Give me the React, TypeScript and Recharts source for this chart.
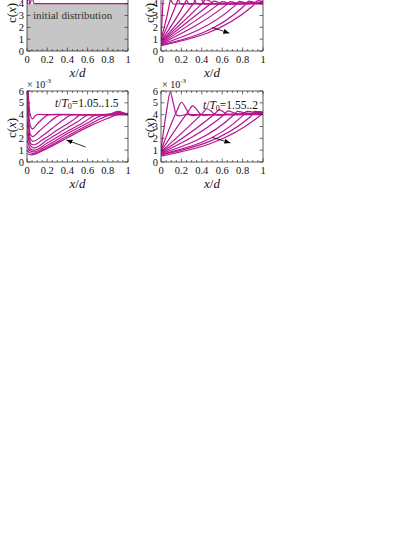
import React from 'react';
import { ComposedChart, Line, Area, XAxis, YAxis } from 'recharts';

const SERIF = '"Liberation Serif", "Times New Roman", serif';
const MAGENTA = '#b5148f';
const AXIS = '#333333';

// axis ticks
const X_TICKS = [0, 0.05, 0.1, 0.15, 0.2, 0.25, 0.3, 0.35, 0.4, 0.45, 0.5, 0.55, 0.6, 0.65, 0.7, 0.75, 0.8, 0.85, 0.9, 0.95, 1];
const X_LABELS = [0, 0.2, 0.4, 0.6, 0.8, 1];
const Y_TICKS = [0, 1, 2, 3, 4, 5, 6];

type Pt = [number, number];

// panel 1: initial distribution
const initialFill: Pt[] = [[0, 4], [1, 4]];
const initialCurves: Pt[][] = [
  [[0, 4.0], [0.015, 4.5], [0.03, 4.0], [0.05, 4.5], [0.07, 4.0], [1, 4.0]],
];

// panel 2: early times (front moving right)
const earlyCurves: Pt[][] = [
  [[0, 1.0], [0.02, 4.2], [0.05, 7.0], [0.09, 4.5], [0.13, 3.95], [0.19, 4.0], [1, 4.0]],
  [[0, 0.95], [0.09, 4.3], [0.12, 5.9], [0.16, 4.6], [0.2, 3.96], [0.26, 4.0], [1, 4.0]],
  [[0, 0.9], [0.16, 4.2], [0.2, 5.2], [0.24, 4.5], [0.28, 3.96], [0.34, 4.0], [1, 4.0]],
  [[0, 0.85], [0.24, 4.15], [0.28, 4.85], [0.32, 4.4], [0.36, 3.97], [0.42, 4.0], [1, 4.02]],
  [[0, 0.8], [0.32, 4.05], [0.36, 4.55], [0.4, 4.3], [0.44, 3.98], [0.5, 4.0], [1, 4.03]],
  [[0, 0.75], [0.4, 4.0], [0.44, 4.35], [0.48, 4.2], [0.52, 3.98], [0.58, 4.0], [1, 4.05]],
  [[0, 0.7], [0.48, 3.95], [0.52, 4.22], [0.56, 4.12], [0.6, 3.98], [0.66, 4.0], [1, 4.08]],
  [[0, 0.65], [0.56, 3.92], [0.6, 4.18], [0.64, 4.1], [0.68, 3.99], [1, 4.1]],
  [[0, 0.6], [0.64, 3.9], [0.68, 4.18], [0.72, 4.1], [0.76, 4.0], [1, 4.12]],
  [[0, 0.55], [0.73, 3.88], [0.77, 4.2], [0.81, 4.12], [0.86, 4.02], [1, 4.15]],
  [[0, 0.5], [0.82, 3.85], [0.86, 4.22], [0.9, 4.15], [0.95, 4.1], [1, 4.18]],
  [[0, 0.45], [0.9, 3.8], [0.95, 4.25], [1, 4.2]],
];

// panel 3: t/T0 = 1.05..1.5
const middleCurves: Pt[][] = [
  [[0, 9.0], [0.015, 5.5], [0.035, 3.9], [0.055, 3.65], [0.08, 3.9], [0.11, 4.02], [0.2, 4.0], [0.8, 4.0], [0.9, 4.28], [0.96, 4.15], [1, 4.0]],
  [[0, 8.0], [0.015, 4.5], [0.035, 3.0], [0.055, 2.8], [0.1, 3.2], [0.16, 3.7], [0.22, 4.0], [0.3, 4.02], [0.8, 4.0], [0.9, 4.2], [1, 4.0]],
  [[0, 6.5], [0.015, 3.6], [0.035, 2.3], [0.055, 2.15], [0.12, 2.6], [0.2, 3.2], [0.28, 3.75], [0.34, 4.0], [1, 4.0]],
  [[0, 5.0], [0.02, 2.6], [0.04, 1.85], [0.06, 1.75], [0.15, 2.2], [0.25, 2.85], [0.35, 3.5], [0.45, 4.0], [1, 4.0]],
  [[0, 3.6], [0.02, 2.0], [0.045, 1.5], [0.065, 1.45], [0.15, 1.85], [0.3, 2.7], [0.45, 3.5], [0.54, 4.0], [1, 4.02]],
  [[0, 2.6], [0.025, 1.55], [0.05, 1.25], [0.07, 1.2], [0.2, 1.85], [0.35, 2.65], [0.5, 3.4], [0.62, 4.0], [1, 4.03]],
  [[0, 1.9], [0.025, 1.25], [0.05, 1.03], [0.075, 1.0], [0.2, 1.6], [0.4, 2.6], [0.55, 3.3], [0.7, 4.0], [1, 4.05]],
  [[0, 1.35], [0.03, 0.95], [0.07, 0.85], [0.2, 1.4], [0.4, 2.4], [0.6, 3.3], [0.77, 4.0], [1, 4.08]],
  [[0, 0.95], [0.03, 0.78], [0.06, 0.72], [0.2, 1.25], [0.4, 2.2], [0.6, 3.1], [0.84, 4.0], [1, 4.1]],
  [[0, 0.7], [0.04, 0.6], [0.2, 1.15], [0.4, 2.05], [0.6, 2.95], [0.8, 3.7], [0.9, 4.02], [1, 4.12]],
];

// panel 4: t/T0 = 1.55..2
const lateCurves: Pt[][] = [
  [[0, 1.0], [0.06, 4.6], [0.09, 5.9], [0.12, 5.0], [0.15, 4.0], [0.18, 3.9], [0.24, 4.0], [1, 4.0]],
  [[0, 0.95], [0.16, 4.4], [0.2, 5.05], [0.24, 4.6], [0.28, 4.0], [0.32, 3.92], [0.38, 4.0], [1, 4.02]],
  [[0, 0.9], [0.27, 4.3], [0.31, 4.75], [0.35, 4.45], [0.39, 4.02], [0.43, 3.95], [0.5, 4.0], [1, 4.05]],
  [[0, 0.85], [0.41, 4.15], [0.45, 4.5], [0.49, 4.3], [0.53, 4.02], [0.57, 3.96], [0.62, 4.0], [1, 4.08]],
  [[0, 0.8], [0.53, 4.1], [0.57, 4.4], [0.61, 4.25], [0.65, 4.02], [0.7, 4.0], [1, 4.12]],
  [[0, 0.75], [0.62, 4.02], [0.66, 4.32], [0.7, 4.2], [0.75, 4.05], [1, 4.15]],
  [[0, 0.7], [0.71, 3.95], [0.75, 4.28], [0.8, 4.2], [0.86, 4.12], [1, 4.18]],
  [[0, 0.65], [0.8, 3.9], [0.84, 4.28], [0.9, 4.22], [1, 4.2]],
  [[0, 0.6], [0.88, 3.85], [0.92, 4.28], [0.96, 4.25], [1, 4.22]],
  [[0, 0.5], [0.96, 3.85], [1, 4.2]],
];

// direction arrows
const arrowEarly: Pt[] = [[0.5, 1.99], [0.67, 1.51]];
const arrowMiddle: Pt[] = [[0.58, 1.27], [0.39, 1.86]];
const arrowLate: Pt[] = [[0.5, 2.09], [0.68, 1.61]];

// margins around the plot box (axes take 1px each)
const ML = 32, MR = 8, MT = 28, MB = 32;

const rows = (pts: Pt[]) => pts.map(([x, y]) => ({ x, y }));

const bottomTick = (p: any) => {
  const v = p.payload.value;
  const major = X_LABELS.includes(v);
  return (
    <g>
      <line x1={p.x} x2={p.x} y1={p.y} y2={p.y - (major ? 3.5 : 2)} stroke={AXIS} strokeWidth={0.7} />
      {major && (
        <text x={p.x} y={p.y + 12} textAnchor="middle" fontSize={10.5} fontFamily={SERIF} fill="#111">{v}</text>
      )}
    </g>
  );
};

const topTick = (p: any) => {
  const major = X_LABELS.includes(p.payload.value);
  return <line x1={p.x} x2={p.x} y1={p.y} y2={p.y + (major ? 3.5 : 2)} stroke={AXIS} strokeWidth={0.7} />;
};

// labels above the visible page (top row) are left out
const makeLeftTick = (hidden: number[]) => (p: any) => (
  <g>
    <line x1={p.x} x2={p.x + 3.5} y1={p.y} y2={p.y} stroke={AXIS} strokeWidth={0.7} />
    {!hidden.includes(p.payload.value) && (
      <text x={p.x - 3} y={p.y + 3.5} textAnchor="end" fontSize={10.5} fontFamily={SERIF} fill="#111">{p.payload.value}</text>
    )}
  </g>
);

const rightTick = (p: any) => (
  <line x1={p.x} x2={p.x - 3.5} y1={p.y} y2={p.y} stroke={AXIS} strokeWidth={0.7} />
);

interface PanelProps {
  left: number;
  top: number;
  w: number;
  h: number;
  curves: Pt[][];
  fill?: Pt[];
  arrow?: Pt[];
  hiddenLabels?: number[];
}

const Panel: React.FC<PanelProps> = ({ left, top, w, h, curves, fill, arrow, hiddenLabels = [] }) => {
  const axisLine = { stroke: AXIS, strokeWidth: 0.8 };
  return (
    <div style={{ position: 'absolute', left: left - ML, top: top - MT }}>
      <ComposedChart width={w + ML + MR} height={h + MT + MB}
        margin={{ top: MT - 1, right: MR - 1, bottom: MB - 1, left: ML - 1 }}>
        <XAxis xAxisId="b" dataKey="x" type="number" domain={[0, 1]} allowDataOverflow ticks={X_TICKS} interval={0}
          height={1} tickSize={0} tickMargin={0} tickLine={false} axisLine={axisLine} tick={bottomTick} />
        <XAxis xAxisId="t" orientation="top" dataKey="x" type="number" domain={[0, 1]} allowDataOverflow ticks={X_TICKS} interval={0}
          height={1} tickSize={0} tickMargin={0} tickLine={false} axisLine={axisLine} tick={topTick} />
        <YAxis yAxisId="l" type="number" domain={[0, 6]} allowDataOverflow ticks={Y_TICKS} interval={0}
          width={1} tickSize={0} tickMargin={0} tickLine={false} axisLine={axisLine} tick={makeLeftTick(hiddenLabels)} />
        <YAxis yAxisId="r" orientation="right" type="number" domain={[0, 6]} allowDataOverflow ticks={Y_TICKS} interval={0}
          width={1} tickSize={0} tickMargin={0} tickLine={false} axisLine={axisLine} tick={rightTick} />
        {fill && (
          <Area xAxisId="b" yAxisId="l" data={rows(fill)} dataKey="y" type="linear" fill="#c6c6c6" fillOpacity={1}
            stroke="none" isAnimationActive={false} />
        )}
        {curves.map((c, i) => (
          <Line key={i} xAxisId="b" yAxisId="l" data={rows(c)} dataKey="y" type="monotone" stroke={MAGENTA}
            strokeWidth={1.2} dot={false} activeDot={false} isAnimationActive={false} />
        ))}
        {arrow && (
          <Line xAxisId="b" yAxisId="l" data={rows(arrow)} dataKey="y" type="linear" stroke="#000" strokeWidth={0.8}
            dot={false} activeDot={false} markerEnd="url(#arrowHead)" isAnimationActive={false} />
        )}
      </ComposedChart>
    </div>
  );
};

const abs = (left: number, top: number, extra: React.CSSProperties = {}): React.CSSProperties => ({
  position: 'absolute', left, top, fontFamily: SERIF, color: '#111', whiteSpace: 'nowrap', lineHeight: 1, ...extra,
});

const CLabel = ({ cx, cy }: { cx: number; cy: number }) => (
  <div style={abs(cx, cy, { fontSize: 13, transform: 'translate(-50%, -50%) rotate(-90deg)' })}>
    c(<i>x</i>)
  </div>
);

const XLabel = ({ cx, cy }: { cx: number; cy: number }) => (
  <div style={abs(cx, cy, { fontSize: 13, transform: 'translate(-50%, -50%)' })}>
    <i>x</i>/<i>d</i>
  </div>
);

const Scale = ({ left, top }: { left: number; top: number }) => (
  <div style={abs(left, top, { fontSize: 10 })}>
    × 10<sup style={{ fontSize: 7, verticalAlign: 'top', position: 'relative', top: -2 }}>-3</sup>
  </div>
);

const TimeLabel = ({ left, cy, range }: { left: number; cy: number; range: string }) => (
  <div style={abs(left, cy, { fontSize: 11.5, transform: 'translateY(-50%)' })}>
    <i>t</i>/<i>T</i><sub style={{ fontSize: 8, verticalAlign: 'baseline', position: 'relative', top: 2 }}>0</sub>={range}
  </div>
);

export default function App() {
  return (
    <div style={{ position: 'absolute', left: 0, top: 0, width: 415, height: 537, background: '#fff', overflow: 'hidden' }}>
      <svg width={0} height={0} style={{ position: 'absolute' }}>
        <defs>
          <marker id="arrowHead" markerUnits="userSpaceOnUse" markerWidth={7} markerHeight={6} refX={6} refY={2.5} orient="auto">
            <path d="M0,0 L6,2.5 L0,5 z" fill="#000" />
          </marker>
        </defs>
      </svg>

      <Panel left={27} top={-20.5} w={101} h={71} curves={initialCurves} fill={initialFill} hiddenLabels={[5, 6]} />
      <Panel left={161} top={-20.5} w={102} h={71} curves={earlyCurves} arrow={arrowEarly} hiddenLabels={[5, 6]} />
      <Panel left={27} top={91} w={101} h={71} curves={middleCurves} arrow={arrowMiddle} />
      <Panel left={161} top={91} w={102} h={71} curves={lateCurves} arrow={arrowLate} />

      <div style={abs(33, 15, { fontSize: 11, color: '#333', transform: 'translateY(-50%)' })}>initial distribution</div>

      <CLabel cx={11} cy={13} />
      <CLabel cx={149} cy={13} />
      <CLabel cx={11} cy={128} />
      <CLabel cx={149} cy={128} />

      <XLabel cx={77.5} cy={72} />
      <XLabel cx={212} cy={72} />
      <XLabel cx={77.5} cy={183} />
      <XLabel cx={212} cy={183} />

      <Scale left={27} top={80} />
      <Scale left={162} top={80} />

      <TimeLabel left={55} cy={104} range="1.05..1.5" />
      <TimeLabel left={203} cy={106} range="1.55..2" />
    </div>
  );
}
